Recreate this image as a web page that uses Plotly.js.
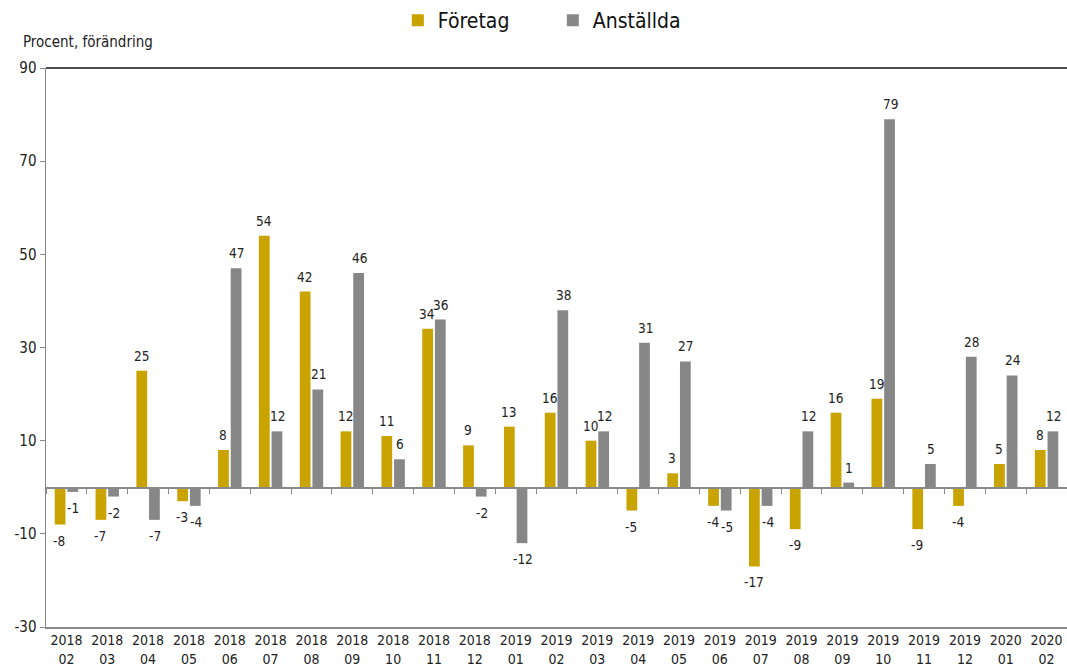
<!DOCTYPE html>
<html>
<head>
<meta charset="utf-8">
<script src="https://cdn.plot.ly/plotly-3.0.1.min.js"></script>
<style>html,body{margin:0;padding:0;background:#fff;}#chart{width:1067px;height:671px;}</style>
</head>
<body>
<div id="chart"></div>
<script>
const categories = ["2018<br>02","2018<br>03","2018<br>04","2018<br>05","2018<br>06","2018<br>07","2018<br>08","2018<br>09","2018<br>10","2018<br>11","2018<br>12","2019<br>01","2019<br>02","2019<br>03","2019<br>04","2019<br>05","2019<br>06","2019<br>07","2019<br>08","2019<br>09","2019<br>10","2019<br>11","2019<br>12","2020<br>01","2020<br>02"];
const foretag = [-8,-7,25,-3,8,54,42,12,11,34,9,13,16,10,-5,3,-4,-17,-9,16,19,-9,-4,5,8];
const anstallda = [-1,-2,-7,-4,47,12,21,46,6,36,-2,-12,38,12,31,27,-5,-4,12,1,79,5,28,24,12];
const yTicks = [-30,-10,10,30,50,70,90];

const font = "Tahoma, 'DejaVu Sans Condensed', 'DejaVu Sans', sans-serif";
const gold = "#C9A300", grey = "#878787";

const W = 1067, H = 671, ML = 46, MR = 0;
const bargap = 0.38, bargroupgap = 0.15;
const catW = (W - ML - MR) / categories.length;
const slot = catW * (1 - bargap) / 2;

function barTrace(name, vals, color) {
  return {type:"bar", name:name, x:categories, y:vals, marker:{color:color}, hoverinfo:"y"};
}

function labels(vals, side) {
  return vals.map((v, i) => ({
    x: categories[i], y: v, xref:"x", yref:"y", text: String(v), showarrow:false,
    xshift: side * (slot / 2 + 0.6), yanchor: v >= 0 ? "bottom" : "top", yshift: v >= 0 ? 6 : -7,
    borderpad:0,
    font:{family:font, size:13.5, color:"#222"}
  }));
}

const traces = [
  barTrace("Företag", foretag, gold),
  barTrace("Anställda", anstallda, grey),
  {type:"scatter", x:categories, y:categories.map(()=>null), xaxis:"x2", showlegend:false, hoverinfo:"skip"}
];

const layout = {
  width:W, height:H,
  margin:{l:ML, r:MR, t:68, b:44},
  paper_bgcolor:"#fff", plot_bgcolor:"#fff",
  font:{family:font, size:13, color:"#222"},
  barmode:"group", bargap:bargap, bargroupgap:bargroupgap,
  showlegend:true,
  legend:{orientation:"h", x:0.4964, xanchor:"center", y:1.0, yref:"container", yanchor:"top",
          font:{family:font,size:21,color:"#111"}, itemwidth:30, traceorder:"normal", entrywidth:110},
  xaxis:{type:"category", showline:true, linecolor:"#888", linewidth:1.5, ticks:"", showgrid:false,
         zeroline:false, tickfont:{family:font,size:14,color:"#222"}, fixedrange:true},
  xaxis2:{type:"category", overlaying:"x", anchor:"free", position:0.25, matches:"x",
          showline:true, linecolor:"#888", linewidth:1.5, ticks:"outside", ticklen:5, tickcolor:"#888",
          tickson:"boundaries", showticklabels:false, showgrid:false, zeroline:false},
  yaxis:{range:[-30,90], tickvals:yTicks, ticktext:yTicks.map(String), showgrid:false, zeroline:false,
         showline:true, linecolor:"#888", linewidth:1.5, ticks:"outside", ticklen:5, tickcolor:"#888",
         tickfont:{family:font,size:15,color:"#222"}, fixedrange:true},
  shapes:[{type:"line", xref:"paper", yref:"paper", x0:0, x1:1, y0:1, y1:1, line:{color:"#111", width:1.5}}],
  annotations:[{text:"Procent, förändring", xref:"paper", yref:"paper", x:-0.024, y:1.027, xanchor:"left", yanchor:"bottom",
                showarrow:false, font:{family:font,size:15,color:"#222"}}]
    .concat(labels(foretag, -1), labels(anstallda, 1))
};

Plotly.newPlot("chart", traces, layout, {displayModeBar:false, staticPlot:true});
</script>
</body>
</html>
